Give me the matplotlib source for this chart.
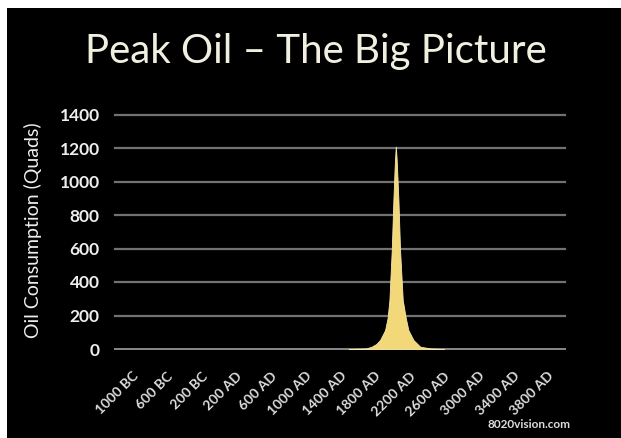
import matplotlib
matplotlib.use("Agg")
import matplotlib.pyplot as plt
from matplotlib.patches import Rectangle

# Data
years = [1500, 1700, 1767, 1820, 1863, 1921, 1950, 1971, 1998, 2017, 2035, 2045,
         2055, 2075, 2094, 2125, 2160, 2190, 2248, 2326, 2450, 2600]
consumption = [0, 3, 14, 30, 54, 113, 185, 292, 591, 890, 1130, 1208,
               1130, 890, 591, 292, 185, 113, 54, 14, 3, 0]
tick_years = [-1000, -600, -200, 200, 600, 1000, 1400, 1800, 2200, 2600, 3000, 3400, 3800]
tick_labels = ["1000 BC", "600 BC", "200 BC", "200 AD", "600 AD", "1000 AD", "1400 AD",
               "1800 AD", "2200 AD", "2600 AD", "3000 AD", "3400 AD", "3800 AD"]
y_ticks = [0, 200, 400, 600, 800, 1000, 1200, 1400]

W, H = 621, 438
fig = plt.figure(figsize=(W / 100, H / 100), dpi=100, facecolor="white")
fig.patches.append(Rectangle((7 / W, 0), 1 - 7 / W, 1 - 8 / H, transform=fig.transFigure,
                             facecolor="black", edgecolor="none", zorder=-10))

fam = ["Lato", "DejaVu Sans"]
ax = fig.add_axes([115 / W, 89 / H, 450 / W, (349 - 114.5) / H])
ax.set_zorder(5)
ax.set_facecolor("black")
ax.patch.set_alpha(0)
for s in ax.spines.values():
    s.set_visible(False)

ax.set_xlim(-1200, 4000)
ax.set_ylim(0, 1400)

for v in y_ticks[1:]:
    ax.axhline(v, color="#727272", lw=1.6, zorder=1, clip_on=False)
ax.axhline(0, color="#8a8a8a", lw=1.4, zorder=1, clip_on=False)

ax.fill_between(years, consumption, 0, color="#F3D879", lw=0.6, edgecolor="#f8e7a8", zorder=3)

ax.set_yticks(y_ticks)
ax.set_yticklabels([str(v) for v in y_ticks], fontsize=12.5, color="#eeeeee", family=fam,
                   fontweight="bold")
ax.tick_params(axis="y", length=0, pad=11)

ax.set_xticks(tick_years)
ax.set_xticklabels(tick_labels, rotation=45, ha="right", va="top", rotation_mode="anchor",
                   fontsize=10, color="#dddddd", family=fam, fontweight="bold")
ax.tick_params(axis="x", length=0, pad=15)

fig.text(33 / W, 1 - 230 / H, "Oil Consumption (Quads)", rotation=90, ha="center", va="center",
         fontsize=14, color="#eeeeee", family=fam)

fig.text(316 / W, 1 - 52 / H, "Peak Oil \u2013 The Big Picture", ha="center", va="center",
         fontsize=29, color="#f1efdf", family=fam)
fig.text(570 / W, 1 - 425 / H, "8020vision.com", ha="right", va="center",
         fontsize=8.5, color="#dddddd", family=fam, fontweight="bold")

fig.savefig("out.png", dpi=100, facecolor="white")
